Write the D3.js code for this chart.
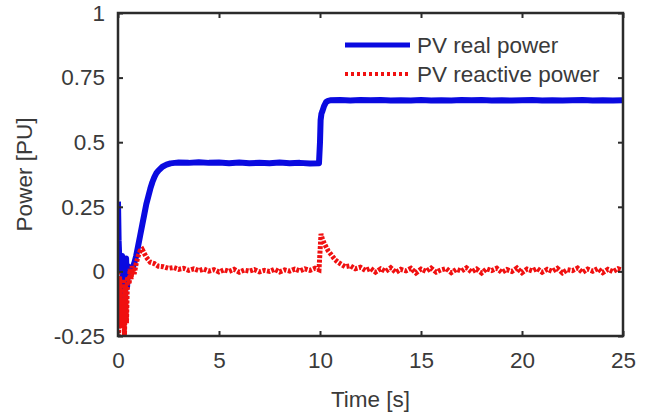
<!DOCTYPE html>
<html>
<head>
<meta charset="utf-8">
<script src="https://cdn.jsdelivr.net/npm/d3@7"></script>
<style>
  body { margin: 0; background: #fff; }
  text { font-family: "Liberation Sans", Arial, sans-serif; fill: #3a3a3a; }
  .axis path, .axis line { stroke: #2b2b2b; }
</style>
</head>
<body>
<svg width="652" height="418"></svg>
<script>
// time (s) and real power (PU)
const realTime = [0, 0.03, 0.06, 0.1, 0.15, 0.2, 0.25, 0.3, 0.35, 0.4, 0.45, 0.5, 0.6, 0.7, 0.8, 0.9,
  1.0, 1.1, 1.2, 1.3, 1.4, 1.5, 1.6, 1.7, 1.8, 1.9, 2.0, 2.2, 2.4, 2.6, 2.8, 3.0,
  3.5, 4.0, 4.5, 5.0, 5.5, 6.0, 6.5, 7.0, 7.5, 8.0, 8.5, 9.0, 9.5, 9.95,
  10.0, 10.03, 10.07, 10.12, 10.2, 10.3, 10.4, 10.5, 11.0, 11.5, 12.0, 12.5, 13.0, 13.5, 14.0,
  14.5, 15.0, 15.5, 16.0, 16.5, 17.0, 17.5, 18.0, 18.5, 19.0, 19.5, 20.0, 20.5, 21.0, 21.5,
  22.0, 22.5, 23.0, 23.5, 24.0, 24.5, 25.0];
const realPower = [0.27, 0.12, 0.06, 0.03, 0.0, 0.06, -0.07, 0.04, -0.1, 0.05, -0.06, 0.02, 0.0, 0.01, 0.03, 0.06,
  0.1, 0.14, 0.18, 0.22, 0.26, 0.29, 0.32, 0.345, 0.365, 0.38, 0.39, 0.405, 0.413, 0.418, 0.42, 0.421,
  0.42, 0.422, 0.42, 0.421, 0.419, 0.421, 0.419, 0.42, 0.419, 0.421, 0.419, 0.42, 0.418, 0.419,
  0.5, 0.585, 0.61, 0.62, 0.64, 0.655, 0.66, 0.662, 0.663, 0.661, 0.663, 0.662, 0.663, 0.661, 0.662,
  0.661, 0.663, 0.661, 0.662, 0.661, 0.663, 0.662, 0.663, 0.661, 0.662, 0.661, 0.662, 0.663, 0.661, 0.662,
  0.661, 0.662, 0.663, 0.661, 0.662, 0.661, 0.662];

// time (s) and reactive power (PU)
const reactiveTime = [0, 0.03, 0.08, 0.12, 0.17, 0.22, 0.27, 0.32, 0.37, 0.42, 0.47, 0.55, 0.6, 0.65, 0.7, 0.8, 0.9,
  1.0, 1.1, 1.2, 1.3, 1.4, 1.5, 1.6, 1.8, 2.0, 2.25, 2.5, 2.75, 3.0, 3.25, 3.5, 3.75, 4.0, 4.25, 4.5, 4.75,
  5.0, 5.25, 5.5, 5.75, 6.0, 6.25, 6.5, 6.75, 7.0, 7.25, 7.5, 7.75, 8.0, 8.25, 8.5, 8.75, 9.0, 9.25, 9.5, 9.75, 9.95,
  10.05, 10.1, 10.2, 10.3, 10.4, 10.5, 10.6, 10.75, 10.9, 11.0, 11.25, 11.5, 11.75, 12.0, 12.25, 12.5, 12.75,
  13.0, 13.25, 13.5, 13.75, 14.0, 14.25, 14.5, 14.75, 15.0, 15.25, 15.5, 15.75, 16.0, 16.25, 16.5, 16.75,
  17.0, 17.25, 17.5, 17.75, 18.0, 18.25, 18.5, 18.75, 19.0, 19.25, 19.5, 19.75, 20.0, 20.25, 20.5, 20.75,
  21.0, 21.25, 21.5, 21.75, 22.0, 22.25, 22.5, 22.75, 23.0, 23.25, 23.5, 23.75, 24.0, 24.25, 24.5, 24.75, 25.0];
const reactivePower = [0.0, -0.25, -0.02, -0.22, -0.05, -0.18, -0.03, -0.25, -0.05, -0.2, -0.02, -0.05, 0.01, -0.03, 0.02, -0.01, 0.03,
  0.06, 0.08, 0.085, 0.07, 0.055, 0.045, 0.035, 0.03, 0.02, 0.018, 0.012, 0.015, 0.008, 0.012, 0.004, 0.01, 0.003, 0.009, 0.001, 0.007,
  -0.002, 0.006, 0.0, 0.008, -0.003, 0.005, 0.001, 0.007, -0.002, 0.004, 0.0, 0.008, -0.002, 0.006, 0.001, 0.009, 0.002, 0.01, 0.004, 0.012, 0.006,
  0.145, 0.13, 0.11, 0.095, 0.08, 0.07, 0.06, 0.045, 0.035, 0.03, 0.018, 0.022, 0.01, 0.016, 0.004, 0.012, -0.003,
  0.01, 0.0, 0.014, -0.004, 0.008, 0.002, 0.012, -0.006, 0.009, 0.0, 0.013, -0.003, 0.006, 0.011, -0.005, 0.008,
  0.001, 0.014, -0.002, 0.009, -0.006, 0.01, 0.003, 0.012, -0.004, 0.007, 0.0, 0.013, -0.005, 0.009, 0.002, 0.011,
  -0.003, 0.008, 0.0, 0.012, -0.006, 0.007, 0.003, 0.013, -0.004, 0.009, 0.001, 0.011, -0.005, 0.008, -0.001, 0.01, 0.004];

const xTicks = [0, 5, 10, 15, 20, 25];
const yTicks = [-0.25, 0, 0.25, 0.5, 0.75, 1];
const seriesNames = ['PV real power', 'PV reactive power'];

const svg = d3.select('svg'),
    margin = {top: 13, right: 29, bottom: 82, left: 118},
    width = +svg.attr('width') - margin.left - margin.right,
    height = +svg.attr('height') - margin.top - margin.bottom;

const x = d3.scaleLinear().domain([0, 25]).range([0, width]);
const y = d3.scaleLinear().domain([-0.25, 1]).range([height, 0]);

const g = svg.append('g').attr('transform', `translate(${margin.left},${margin.top})`);

g.append('defs').append('clipPath').attr('id', 'clip')
  .append('rect').attr('width', width).attr('height', height);

const line = d3.line().x(d => x(d[0])).y(d => y(d[1]));

const realData = realTime.map((t, i) => [t, realPower[i]]);
const reactiveData = reactiveTime.map((t, i) => [t, reactivePower[i]]);

const plot = g.append('g').attr('clip-path', 'url(#clip)');
plot.append('path')
    .datum(realData)
    .attr('fill', 'none')
    .attr('stroke', '#0a0ae0')
    .attr('stroke-width', 6)
    .attr('stroke-linejoin', 'round')
    .attr('d', line);
plot.append('path')
    .datum(reactiveData)
    .attr('fill', 'none')
    .attr('stroke', '#f01010')
    .attr('stroke-width', 5)
    .attr('stroke-dasharray', '3,1.5')
    .attr('d', line);

// axes, ticks pointing inward; plain hyphen for negatives
const fmt = d => String(d);
g.append('g').attr('class', 'axis')
    .attr('transform', `translate(0,${height})`)
    .call(d3.axisBottom(x).tickValues(xTicks).tickSize(-5).tickPadding(16).tickFormat(fmt))
    .call(a => a.select('.domain').remove())
    .selectAll('text').attr('font-size', 22.5);
g.append('g').attr('class', 'axis')
    .call(d3.axisLeft(y).tickValues(yTicks).tickSize(-5).tickPadding(13).tickFormat(fmt))
    .call(a => a.select('.domain').remove())
    .selectAll('text').attr('font-size', 22.5);
g.append('g').attr('class', 'axis')
    .call(d3.axisTop(x).tickValues(xTicks).tickSize(-5).tickFormat(''))
    .call(a => a.select('.domain').remove());
g.append('g').attr('class', 'axis')
    .attr('transform', `translate(${width},0)`)
    .call(d3.axisRight(y).tickValues(yTicks).tickSize(-5).tickFormat(''))
    .call(a => a.select('.domain').remove());
g.selectAll('.axis line').attr('stroke-width', 2);

g.append('rect')
    .attr('width', width).attr('height', height)
    .attr('fill', 'none').attr('stroke', '#2b2b2b').attr('stroke-width', 2.5);

// axis labels
g.append('text')
    .attr('x', width / 2).attr('y', height + 71)
    .attr('text-anchor', 'middle').attr('font-size', 22.5)
    .text('Time [s]');
g.append('text')
    .attr('transform', `translate(${-86},${height / 2}) rotate(-90)`)
    .attr('text-anchor', 'middle').attr('font-size', 22.5)
    .text('Power [PU]');

// legend
const legend = g.append('g').attr('transform', 'translate(227,32)');
const legendStyles = [
  {color: '#0a0ae0', dash: null, width: 5},
  {color: '#f01010', dash: '3,3', width: 4}
];
seriesNames.forEach((name, i) => {
  const row = legend.append('g').attr('transform', `translate(0,${i * 29})`);
  row.append('line')
    .attr('x1', 0).attr('x2', 65)
    .attr('stroke', legendStyles[i].color)
    .attr('stroke-width', legendStyles[i].width)
    .attr('stroke-dasharray', legendStyles[i].dash);
  row.append('text')
    .attr('x', 72).attr('dy', '0.35em')
    .attr('font-size', 22.5)
    .text(name);
});
</script>
</body>
</html>
